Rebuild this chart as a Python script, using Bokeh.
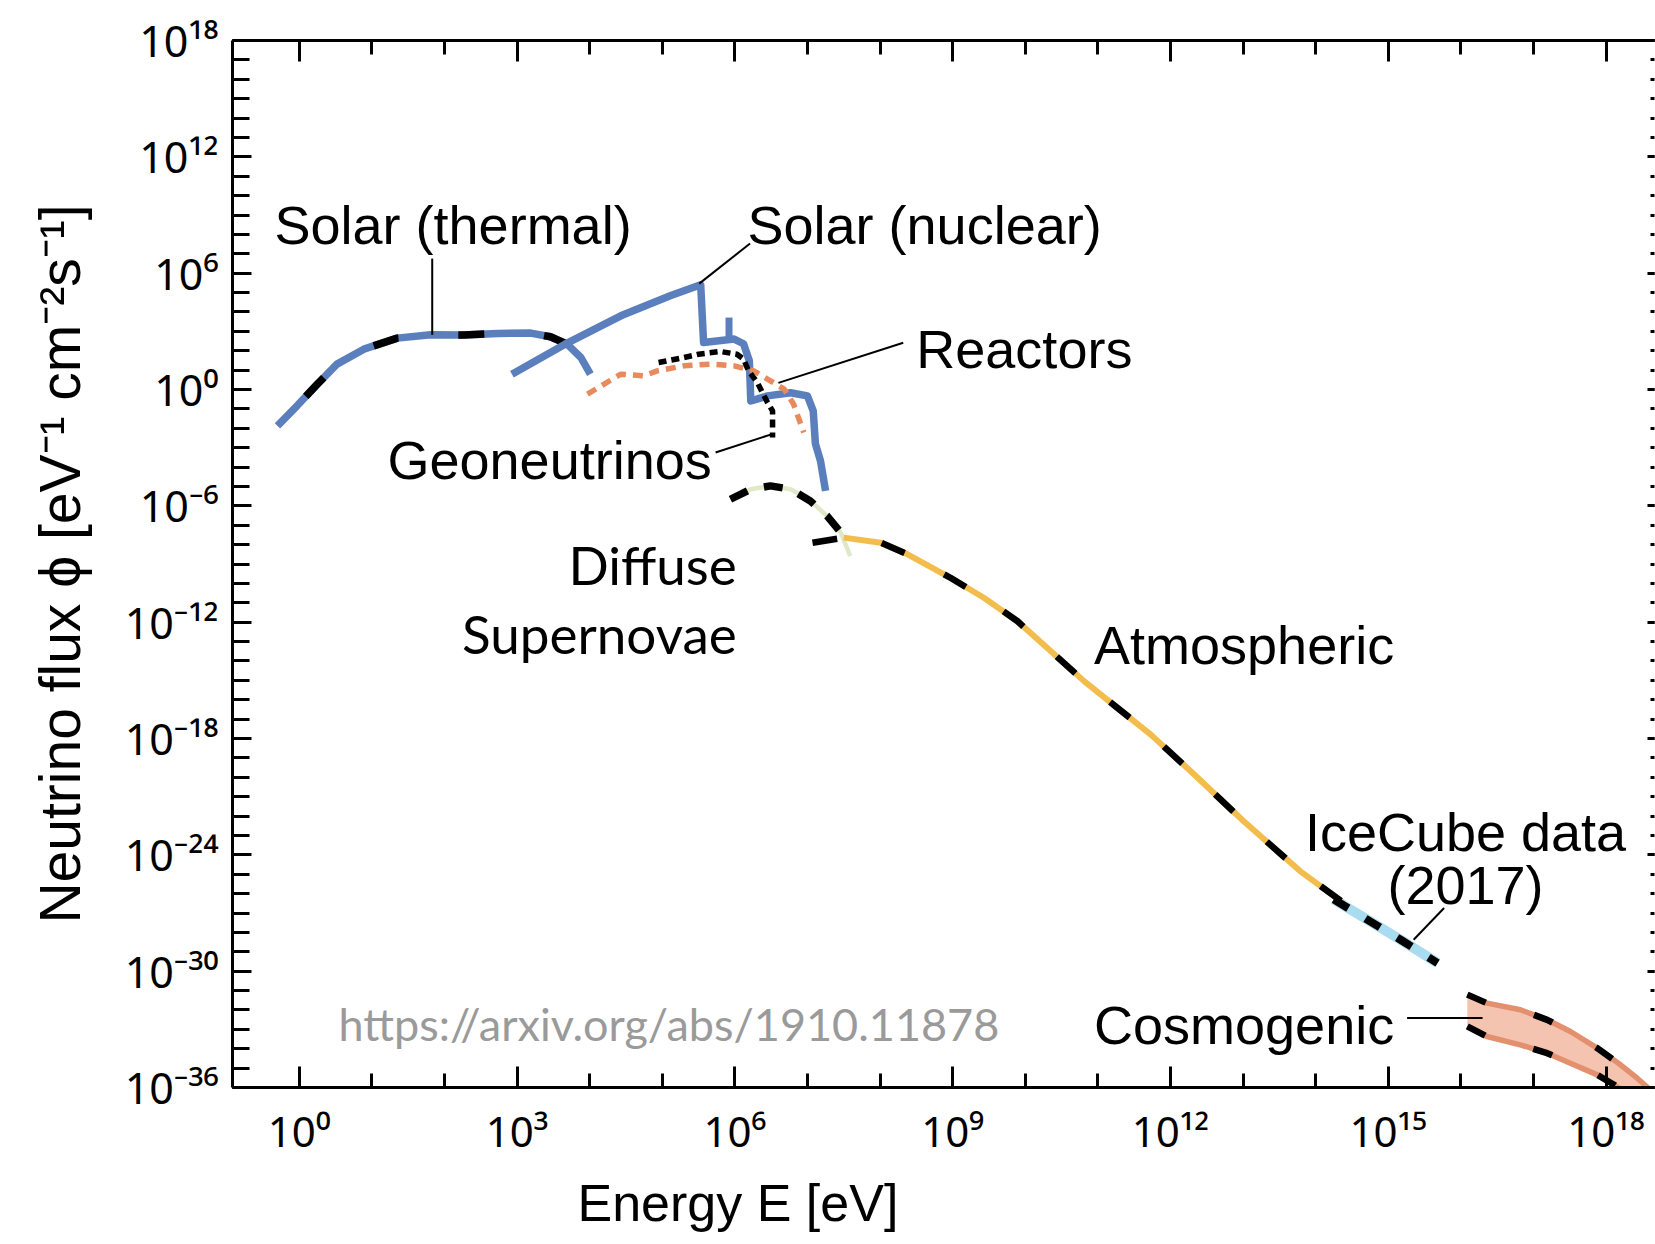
from bokeh.plotting import figure
from bokeh.models import FixedTicker, LogAxis, Label, CustomJSTickFormatter, Title
from bokeh.embed import file_html
from bokeh.resources import INLINE

# ---------------- data (log10 energy [eV], log10 flux) ----------------
thermal_logE = [-0.30, -0.03, 0.25, 0.52, 0.89, 1.35, 1.81, 2.27, 2.73, 3.19, 3.46, 3.69, 3.88, 4.01]
thermal_logF = [-1.88, -0.84, 0.28, 1.31, 2.08, 2.65, 2.82, 2.81, 2.89, 2.91, 2.72, 2.34, 1.65, 0.79]

nuclear_logE = [2.93, 3.65, 4.43, 5.11, 5.53, 5.57, 5.99, 6.12, 6.20, 6.22, 6.26, 6.45, 6.77, 7.00, 7.08, 7.11, 7.18, 7.25]
nuclear_logF = [0.79, 2.31, 3.80, 4.84, 5.40, 2.42, 2.60, 2.36, 1.48, -0.59, -0.55, -0.33, -0.17, -0.33, -1.10, -2.80, -3.68, -5.23]
be7_logE = [5.92, 5.92]
be7_logF = [2.60, 3.71]

geo_logE = [4.95, 5.30, 5.50, 5.80, 6.03, 6.12, 6.19, 6.31, 6.45, 6.52, 6.52]
geo_logF = [1.39, 1.65, 1.82, 1.96, 1.82, 1.57, 0.96, 0.36, -0.67, -1.10, -2.48]

react_logE = [3.97, 4.20, 4.43, 4.75, 4.93, 5.30, 5.67, 5.99, 6.26, 6.49, 6.68, 6.81, 6.95]
react_logF = [-0.24, 0.28, 0.79, 0.71, 0.96, 1.22, 1.31, 1.22, 0.96, 0.45, 0.02, -0.76, -2.22]

dsnb_logE = [5.94, 6.22, 6.49, 6.77, 7.04, 7.27, 7.46, 7.59]
dsnb_logF = [-5.66, -5.14, -4.97, -5.14, -5.75, -6.52, -7.38, -8.59]

atm_start_logE = 7.07
atm_start_logF = -7.90
atm_logE = [7.50, 8.01, 8.38, 8.97, 9.43, 9.89, 10.35, 10.81, 11.27, 11.73, 12.28, 13.01, 13.79, 14.39]
atm_logF = [-7.64, -7.90, -8.50, -9.71, -10.74, -11.94, -13.49, -15.04, -16.42, -17.80, -19.69, -22.27, -24.85, -26.49]

ice_logE = [14.25, 14.71, 15.17, 15.68]
ice_logF = [-26.30, -27.34, -28.38, -29.58]

cosmo_hi_logE = [16.09, 16.36, 16.82, 17.19, 17.51, 17.88, 18.20, 18.43, 18.61]
cosmo_hi_logF = [-31.21, -31.65, -31.99, -32.51, -33.11, -33.97, -34.83, -35.52, -36.12]
cosmo_lo_logE = [16.09, 16.36, 16.82, 17.19, 17.51, 17.88, 18.11, 18.25]
cosmo_lo_logF = [-32.85, -33.37, -33.80, -34.23, -34.75, -35.35, -35.86, -36.21]

x_major_exp = [0, 3, 6, 9, 12, 15, 18]
y_major_exp = [-36, -30, -24, -18, -12, -6, 0, 6, 12, 18]


def pw(a):
    return [10.0 ** v for v in a]


def tv(k):
    return float(f"1e{k}")


# ---------------- colours ----------------
BLUE = "#5b7fbd"
ORANGE = "#e98a5c"
GOLD = "#f2bd4c"
PALEGREEN = "#dfe9c8"
ICE = "#a9dcf0"
COSMO_FILL = "#f4c4b1"
COSMO_LINE = "#e3906f"
FONT = "Liberation Sans"
TICKFONT = "Noto Sans"

XMIN, XMAX = -0.919, 18.668

p = figure(width=1655, height=1244, x_axis_type="log", y_axis_type="log",
           x_range=(10 ** XMIN, 10 ** XMAX), y_range=(1e-36, 1e18),
           output_backend="svg", toolbar_location=None,
           min_border_left=232, min_border_top=40, min_border_bottom=157, min_border_right=1)
p.grid.visible = False
p.outline_line_color = None
p.background_fill_color = "white"
p.border_fill_color = "white"

fmt = CustomJSTickFormatter(code="""
const s = {"0":"\u2070","1":"\u00b9","2":"\u00b2","3":"\u00b3","4":"\u2074","5":"\u2075",
           "6":"\u2076","7":"\u2077","8":"\u2078","9":"\u2079","-":"\u207b"};
const e = Math.round(Math.log10(tick));
return "10" + String(e).split("").map(c => s[c]).join("");
""")
blank = CustomJSTickFormatter(code="return '';")

x_ticker = FixedTicker(ticks=[tv(k) for k in x_major_exp], minor_ticks=[tv(k) for k in range(0, 19)])
y_ticker = FixedTicker(ticks=[tv(k) for k in y_major_exp], minor_ticks=[tv(k) for k in range(-36, 19)])

xa = p.xaxis[0]
xa.ticker = x_ticker
xa.formatter = fmt
xa.major_tick_in = 21
xa.major_tick_out = 0
xa.minor_tick_in = 14
xa.minor_tick_out = 0
xa.axis_line_width = 3
xa.major_tick_line_width = 3
xa.minor_tick_line_width = 3
xa.major_label_text_font = TICKFONT
xa.major_label_text_font_size = "42px"
xa.major_label_text_color = "black"
xa.major_label_standoff = 14

ya = p.yaxis[0]
ya.ticker = y_ticker
ya.formatter = fmt
ya.major_tick_in = 19
ya.major_tick_out = 0
ya.minor_tick_in = 17
ya.minor_tick_out = 0
ya.axis_line_width = 3
ya.major_tick_line_width = 3
ya.minor_tick_line_width = 3
ya.major_label_text_font = TICKFONT
ya.major_label_text_font_size = "43px"
ya.major_label_text_color = "black"
ya.major_label_standoff = 14
ya.axis_label = "Neutrino flux \u03d5 [eV\u207b\u00b9 cm\u207b\u00b2s\u207b\u00b9]"
ya.axis_label_text_font = FONT
ya.axis_label_text_font_size = "57px"
ya.axis_label_text_font_style = "normal"
ya.axis_label_text_color = "black"
ya.axis_label_standoff = 30

top = LogAxis(ticker=x_ticker, formatter=blank, major_label_text_font_size="2px", major_label_standoff=0,
              major_tick_in=21, major_tick_out=0, minor_tick_in=14, minor_tick_out=0,
              axis_line_width=3, major_tick_line_width=3, minor_tick_line_width=3)
p.add_layout(top, "above")
right = LogAxis(ticker=y_ticker, formatter=blank, major_label_text_font_size="2px", major_label_standoff=0,
                major_tick_in=7, major_tick_out=0, minor_tick_in=4, minor_tick_out=0,
                axis_line_alpha=0, major_tick_line_width=3, minor_tick_line_width=3)
p.add_layout(right, "right")

xtitle = Title(text="Energy E [eV]", align="left", offset=345, standoff=20,
               text_font=FONT, text_font_size="52px", text_font_style="normal", text_color="black")
p.add_layout(xtitle, "below")

# ---------------- curves ----------------
p.line(pw(thermal_logE), pw(thermal_logF), line_color=BLUE, line_width=7.5)
p.line(pw(thermal_logE), pw(thermal_logF), line_color="black", line_width=7.5,
       line_dash="26 60", line_dash_offset=45)

p.line(pw(nuclear_logE), pw(nuclear_logF), line_color=BLUE, line_width=7.5, line_join="round")
p.line(pw(be7_logE), pw(be7_logF), line_color=BLUE, line_width=7)

p.line(pw(react_logE), pw(react_logF), line_color=ORANGE, line_width=5.5, line_dash="10 7")
p.line(pw(geo_logE), pw(geo_logF), line_color="black", line_width=5.5, line_dash="8 5")

p.line(pw(dsnb_logE), pw(dsnb_logF), line_color=PALEGREEN, line_width=4.5)
p.line(pw(dsnb_logE[:7]), pw(dsnb_logF[:7]), line_color="black", line_width=7.5, line_dash="19 17")

p.line(pw(atm_logE), pw(atm_logF), line_color=GOLD, line_width=6)
p.line(pw(ice_logE), pw(ice_logF), line_color=ICE, line_width=10)
p.line(pw([atm_start_logE] + atm_logE), pw([atm_start_logF] + atm_logF), line_color="black",
       line_width=6.5, line_dash="25 45")
p.line(pw(ice_logE), pw(ice_logF), line_color="black", line_width=8, line_dash="17 20")

p.patch(pw(cosmo_hi_logE + cosmo_lo_logE[::-1]), pw(cosmo_hi_logF + cosmo_lo_logF[::-1]),
        fill_color=COSMO_FILL, line_color=None)
for ex, fy in ((cosmo_hi_logE, cosmo_hi_logF), (cosmo_lo_logE, cosmo_lo_logF)):
    p.line(pw(ex), pw(fy), line_color=COSMO_LINE, line_width=5.5)
    p.line(pw(ex), pw(fy), line_color="black", line_width=6.5, line_dash="20 50")

# ---------------- leader lines ----------------
leaders = [
    ([1.832, 1.832], [6.75, 2.82]),
    ([5.51, 6.21], [5.46, 7.53]),
    ([6.60, 8.32], [0.34, 2.41]),
    ([5.735, 6.515], [-3.25, -2.30]),
    ([15.35, 15.77], [-28.38, -26.74]),
    ([15.26, 16.30], [-32.42, -32.42]),
]
for lx, ly in leaders:
    p.line(pw(lx), pw(ly), line_color="black", line_width=2)

# ---------------- text ----------------
def add_label(text, lx, ly, size="54px", align="left", font=FONT, color="black"):
    p.add_layout(Label(x=10 ** lx, y=10 ** ly, text=text, text_font=font, text_font_size=size,
                       text_align=align, text_baseline="middle", text_color=color))

add_label("Solar (thermal)", -0.34, 8.50)
add_label("Solar (nuclear)", 6.175, 8.50)
add_label("Reactors", 8.50, 2.10)
add_label("Geoneutrinos", 1.216, -3.63)
add_label("Diffuse", 6.027, -9.00, size="53px", align="right", font="Lato")
add_label("Supernovae", 6.027, -12.61, size="53px", align="right", font="Lato")
add_label("Atmospheric", 10.948, -13.18)
add_label("IceCube data", 16.065, -22.84, align="center")
add_label("(2017)", 16.065, -25.55, align="center")
add_label("Cosmogenic", 10.948, -32.80)
add_label("https://arxiv.org/abs/1910.11878", 0.541, -32.70, size="45px", font="Lato", color="#9a9a9a")

open("out.html", "w").write(file_html(p, INLINE))
